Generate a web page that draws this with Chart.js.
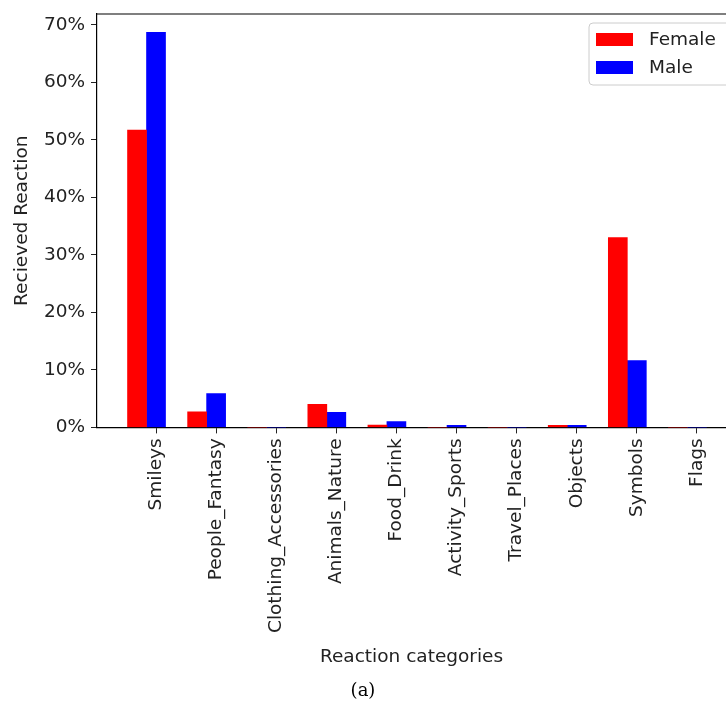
<!DOCTYPE html>
<html>
<head>
<meta charset="utf-8">
<script src="https://cdn.jsdelivr.net/npm/chart.js@4/dist/chart.umd.min.js"></script>
<style>
  html, body { margin: 0; padding: 0; background: #fff; }
  #wrap { width: 726px; height: 711px; position: relative; }
</style>
</head>
<body>
<div id="wrap"><canvas id="chart" width="726" height="711"></canvas></div>
<script>
const categories = ['Smileys', 'People_Fantasy', 'Clothing_Accessories', 'Animals_Nature', 'Food_Drink',
                    'Activity_Sports', 'Travel_Places', 'Objects', 'Symbols', 'Flags'];
const female = [51.7, 2.7, 0, 4.0, 0.4, 0, 0, 0.35, 33.0, 0];
const male = [68.7, 5.9, 0, 2.6, 1.0, 0.35, 0, 0.35, 11.6, 0];
const yTicks = [0, 10, 20, 30, 40, 50, 60, 70];

// ticks sit under the blue bar, not the group centre
const tickShift = 0.158;

Chart.defaults.font.family = '"DejaVu Sans", sans-serif';
Chart.defaults.font.size = 18.5;
Chart.defaults.color = '#222';

// spines (the right one is cut off in the original) and the legend box
const frame = {
    id: 'frame',
    afterDraw(chart) {
        const {ctx, chartArea} = chart;
        ctx.save();
        ctx.strokeStyle = '#000';
        ctx.lineWidth = 1.2;
        ctx.beginPath();
        ctx.moveTo(chartArea.left, chartArea.top);
        ctx.lineTo(chartArea.right + 2, chartArea.top);
        ctx.stroke();

        const x = 589, y = chartArea.top + 9, w = 150, h = 62;
        ctx.fillStyle = 'rgba(255,255,255,0.8)';
        ctx.strokeStyle = '#cccccc';
        ctx.lineWidth = 1;
        ctx.beginPath();
        ctx.roundRect(x, y, w, h, 4);
        ctx.fill();
        ctx.stroke();

        ctx.font = '18.5px "DejaVu Sans", sans-serif';
        ctx.textBaseline = 'middle';
        chart.data.datasets.forEach((ds, i) => {
            const rowY = y + 16 + i * 28;
            ctx.fillStyle = ds.backgroundColor;
            ctx.fillRect(x + 7, rowY - 6, 37, 13);
            ctx.fillStyle = '#222';
            ctx.fillText(ds.label, x + 60, rowY + 1);
        });
        ctx.restore();
    }
};

new Chart(document.getElementById('chart'), {
    type: 'bar',
    data: {
        labels: categories.map((c, i) => i),
        datasets: [
            { label: 'Female', data: female, backgroundColor: '#ff0000', barThickness: 19 },
            { label: 'Male', data: male, backgroundColor: '#0000ff', barThickness: 19 }
        ]
    },
    options: {
        responsive: false,
        animation: false,
        events: [],
        layout: { padding: { top: 14, right: 0, left: 0, bottom: 0 } },
        plugins: {
            legend: { display: false },
            tooltip: { enabled: false },
            title: {
                display: true,
                position: 'bottom',
                text: '(a)',
                color: '#000',
                font: { family: '"DejaVu Serif", "Liberation Serif", serif', size: 18, weight: 'normal' },
                padding: { top: 8, bottom: 9 }
            }
        },
        scales: {
            x: {
                type: 'linear',
                offset: false,
                min: -0.824,
                max: 9.642,
                afterBuildTicks(scale) {
                    scale.ticks = categories.map((c, i) => ({ value: i + tickShift }));
                },
                afterFit(scale) { scale.height = 245; },
                ticks: {
                    autoSkip: false,
                    minRotation: 90,
                    maxRotation: 90,
                    padding: 5,
                    callback: (v, i) => categories[i]
                },
                grid: { offset: false, drawOnChartArea: false, tickLength: 6, color: '#222' },
                border: { display: true, color: '#000', width: 1.2 },
                title: { display: true, text: 'Reaction categories', padding: { top: 4, bottom: 4 } }
            },
            y: {
                min: 0,
                max: 71.9,
                afterBuildTicks(scale) {
                    scale.ticks = yTicks.map(v => ({ value: v }));
                },
                afterFit(scale) {
                    scale.width = 97;
                    scale.paddingTop = 0;
                    scale.paddingBottom = 0;
                },
                ticks: {
                    padding: 6,
                    callback: v => v + '%'
                },
                grid: { drawOnChartArea: false, tickLength: 6, color: '#222' },
                border: { display: true, color: '#000', width: 1.2 },
                title: { display: true, text: 'Recieved Reaction', padding: { top: 11, bottom: 4 } }
            }
        }
    },
    plugins: [frame]
});
</script>
</body>
</html>
